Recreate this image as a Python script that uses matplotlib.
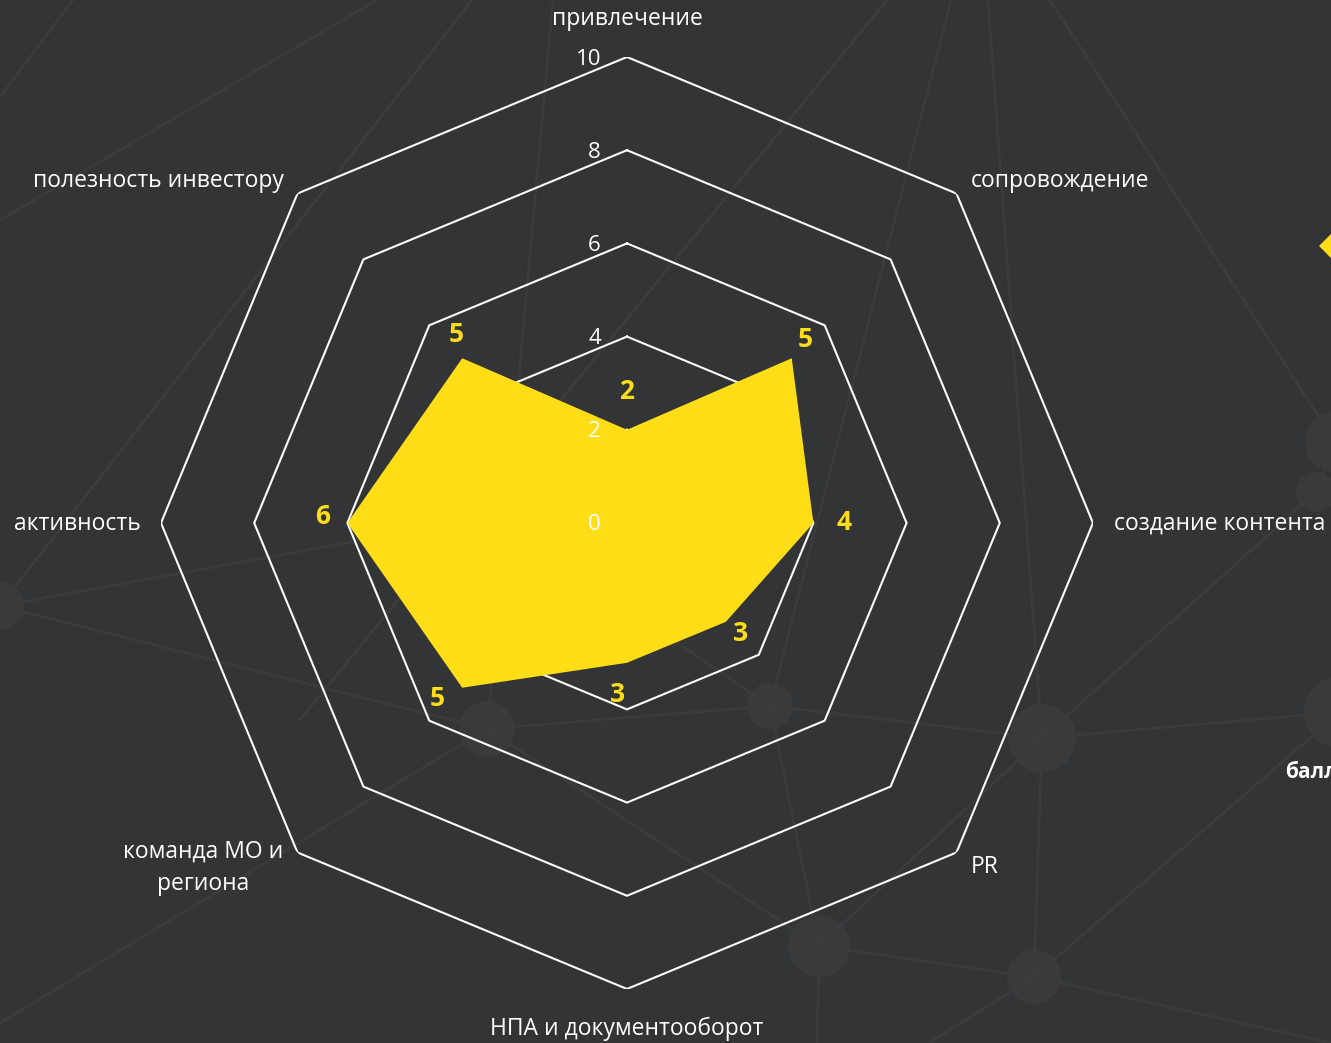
import numpy as np
import matplotlib.pyplot as plt
from matplotlib.patches import Circle, Polygon

# данные
categories = ['привлечение', 'сопровождение', 'создание контента', 'PR',
              'НПА и документооборот', 'команда МО и\nрегиона', 'активность',
              'полезность инвестору']
values = [2, 5, 4, 3, 3, 5, 6, 5]
ticks = [0, 2, 4, 6, 8, 10]

plt.rcParams['font.family'] = ['Open Sans', 'DejaVu Sans']

BG = '#333436'
YELLOW = '#FFDE17'
PX = 72 / 100  # px -> pt

fig = plt.figure(figsize=(13.31, 10.43), dpi=100, facecolor=BG)

# фон: сеть из линий и узлов (декор)
bg = fig.add_axes([0, 0, 1, 1], zorder=0)
bg.set_xlim(0, 1331)
bg.set_ylim(1043, 0)
bg.axis('off')
nodes = {'A': (0, 606, 24), 'B': (487, 729, 28), 'C': (770, 706, 23),
         'D': (1042, 738, 34), 'E': (1340, 712, 36), 'F': (1335, 442, 30),
         'F2': (1316, 492, 20), 'G': (819, 946, 31), 'H': (1034, 977, 27)}
edges = [('A', 'B'), ('B', 'C'), ('C', 'D'), ('D', 'E'), ('B', 'G'), ('C', 'G'),
         ('D', 'G'), ('D', 'H'), ('G', 'H'), ('H', 'E'), ('D', 'F2'), ('F', 'F2'),
         ('F', (1050, 0)), ('D', (988, 0)), ('C', (951, 0)), ('B', (553, 0)),
         ('A', (472, 0)), ('A', (610, 495)), ('C', (600, 590)), ('B', (0, 1023)),
         ('G', (817, 1043)), ('H', (929, 1043)), ('H', (1331, 1043)),
         ((887, 0), (300, 720)), ((73, 0), (0, 97)), ((377, 0), (0, 220))]


def pt(p):
    return nodes[p][:2] if isinstance(p, str) else p


for a, b in edges:
    (x1, y1), (x2, y2) = pt(a), pt(b)
    bg.plot([x1, x2], [y1, y2], color='#3b3b3d', lw=2, solid_capstyle='round')
for x, y, r in nodes.values():
    bg.add_patch(Circle((x, y), r, color='#3a3a3b', lw=0))
bg.add_patch(Polygon([(1319, 246), (1341, 224), (1363, 246), (1341, 268)],
                     color=YELLOW, lw=0))
bg.text(1285, 773, 'баллы', color='white', fontweight='bold', fontsize=15,
        ha='left', va='center')

# лепестковая диаграмма
ax = fig.add_axes([0.12096, 0.05177, 0.7002, 0.8936], projection='polar', zorder=1)
ax.patch.set_alpha(0)
ax.set_theta_zero_location('N')
ax.set_theta_direction(-1)
ax.set_ylim(0, 10)
ax.grid(False)
ax.spines['polar'].set_visible(False)
ax.set_xticks([])
ax.set_yticks([])

n = len(categories)
theta = np.arange(n) * 2 * np.pi / n
closed = np.append(theta, theta[0])

for t in ticks[1:]:
    ax.plot(closed, [t] * (n + 1), color='white', lw=1.5, zorder=2)

ax.fill(closed, values + values[:1], color=YELLOW, lw=0, zorder=3)

for t in ticks:
    ax.annotate(str(t), xy=(0, t), xytext=(-26 * PX, -2 * PX), textcoords='offset points',
                ha='right', va='center', color='white', fontsize=16, zorder=5)

val_off = [(0, 38), (14, 19), (31, 0), (15, -12), (-9, -32), (-25, -11), (-25, 6), (-6, 24)]
for th, v, (dx, dy) in zip(theta, values, val_off):
    ax.annotate(str(v), xy=(th, v), xytext=(dx * PX, dy * PX),
                textcoords='offset points', ha='center', va='center',
                color=YELLOW, fontsize=19, fontweight='bold', zorder=5)

lab_off = [(0, 38), (14, 12), (21, -1), (14, -15), (0, -40), (-14, -15), (-20, -1), (-14, 12)]
lab_ha = ['center', 'left', 'left', 'left', 'center', 'right', 'right', 'right']
for th, name, (dx, dy), ha in zip(theta, categories, lab_off, lab_ha):
    ax.annotate(name, xy=(th, 10), xytext=(dx * PX, dy * PX), textcoords='offset points',
                ha=ha, va='center', multialignment='center', linespacing=1.45,
                color='white', fontsize=16.5, annotation_clip=False, zorder=5)

fig.savefig('out.png', dpi=100, facecolor=BG)
